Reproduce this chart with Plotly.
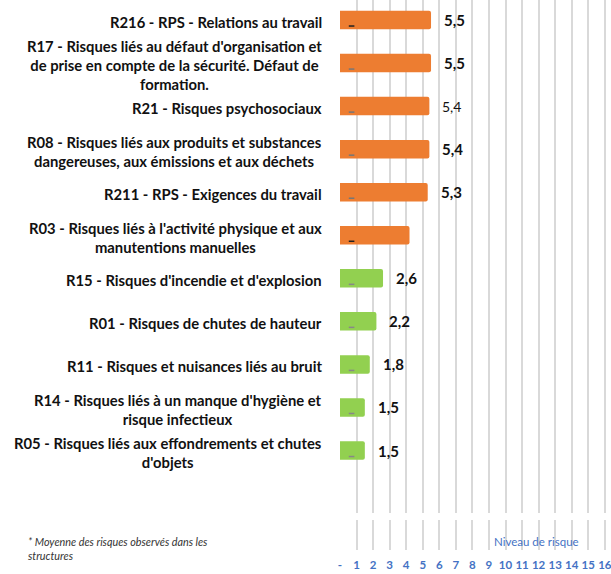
import plotly.graph_objects as go

# Risk categories, top to bottom
categories = [
    "R216 - RPS - Relations au travail",
    "R17 - Risques liés au défaut d'organisation et<br>de prise en compte de la sécurité. Défaut de<br>formation.",
    "R21 - Risques psychosociaux",
    "R08 - Risques liés aux produits et substances<br>dangereuses, aux émissions et aux déchets",
    "R211 - RPS - Exigences du travail",
    "R03 - Risques liés à l'activité physique et aux<br>manutentions manuelles",
    "R15 - Risques d'incendie et d'explosion",
    "R01 - Risques de chutes de hauteur",
    "R11 - Risques et nuisances liés au bruit",
    "R14 - Risques liés à un manque d'hygiène et<br>risque infectieux",
    "R05 - Risques liés aux effondrements et chutes<br>d'objets",
]
# Mean risk level per category
risk_level = [5.5, 5.5, 5.4, 5.4, 5.3, 4.2, 2.6, 2.2, 1.8, 1.5, 1.5]
risk_group = ["élevé"] * 6 + ["modéré"] * 5
label_shown = [True, True, True, True, True, False, True, True, True, True, True]
label_bold = [True, True, False, True, True, True, True, True, True, True, True]

x_ticks = list(range(0, 17))
x_ticktext = ["-"] + [str(i) for i in range(1, 17)]

group_colors = {"élevé": "#ED7D31", "modéré": "#92D050"}
rows = list(range(len(categories)))

W, H = 611, 574
plot_left, plot_bottom = 340, 24
plot_h = H - plot_bottom
px_per_unit = 16.55
row_px, first_row_px = 43.05, 20

y_top = -first_row_px / row_px
y_bottom = (plot_h - first_row_px) / row_px

fig = go.Figure()
fig.add_trace(go.Bar(
    x=risk_level,
    y=rows,
    orientation="h",
    width=0.43,
    marker=dict(color=[group_colors[g] for g in risk_group], line=dict(width=0), cornerradius=2),
    hoverinfo="skip",
))

# small dark ticks inside each bar
fig.add_trace(go.Scatter(
    x=[0.7] * len(rows),
    y=[r + 0.14 for r in rows],
    mode="markers",
    marker=dict(symbol="line-ew", size=4,
                line=dict(width=1.5, color=["#222"] + ["#777"] * 4 + ["#222"] + ["#888"] * 5)),
    hoverinfo="skip",
))

label_font = "Lato, 'Open Sans', sans-serif"
annotations = []
for r, (cat, v) in enumerate(zip(categories, risk_level)):
    annotations.append(dict(
        x=0, xref="paper", xanchor="right", xshift=-16,
        y=r, yref="y", yanchor="middle", yshift=-2,
        text=f"<b>{cat}</b>", align="center", showarrow=False,
        font=dict(family=label_font, size=14.8, color="#111"),
    ))
    if label_shown[r]:
        txt = f"{v:.1f}".replace(".", ",")
        annotations.append(dict(
            x=v, xref="x", xanchor="left", xshift=11,
            y=r, yref="y", yanchor="middle",
            text=f"<b>{txt}</b>" if label_bold[r] else txt, showarrow=False,
            font=dict(family=label_font, size=15 if label_bold[r] else 14, color="#111"),
        ))

annotations.append(dict(
    x=11.9, xref="x", y=(plot_h - 541) / plot_h, yref="paper", yanchor="middle",
    text="Niveau de risque", showarrow=False,
    font=dict(family=label_font, size=11.5, color="#4472C4"),
))
annotations.append(dict(
    x=(26 - plot_left) / (W - plot_left), xref="paper", xanchor="left",
    y=(plot_h - 548) / plot_h, yref="paper", yanchor="middle",
    text="<i>* Moyenne des risques observés dans les<br>structures</i>", align="left",
    showarrow=False,
    font=dict(family=label_font, size=10.8, color="#333"),
))

fig.update_layout(
    width=W, height=H,
    margin=dict(l=plot_left, r=0, t=0, b=plot_bottom, autoexpand=False),
    paper_bgcolor="white", plot_bgcolor="white",
    showlegend=False,
    annotations=annotations,
    shapes=[dict(type="rect", xref="paper", yref="paper", x0=0, x1=1,
                 y0=(plot_h - 520) / plot_h, y1=(plot_h - 513) / plot_h,
                 fillcolor="white", line=dict(width=0), layer="above")],
    xaxis=dict(range=[0, (W - plot_left) / px_per_unit], tickvals=x_ticks, ticktext=x_ticktext,
               showgrid=True, gridcolor="#d9d9d9", gridwidth=1.5, zeroline=False,
               showline=False, ticks="", ticklabelstandoff=6, ticklabeloverflow="allow",
               automargin=False,
               tickfont=dict(family=label_font, size=11.5, color="#4472C4", weight="bold")),
    yaxis=dict(range=[y_bottom, y_top], showticklabels=False, showgrid=False,
               zeroline=False, showline=False, ticks="", automargin=False),
)

fig.write_html("out.html")
